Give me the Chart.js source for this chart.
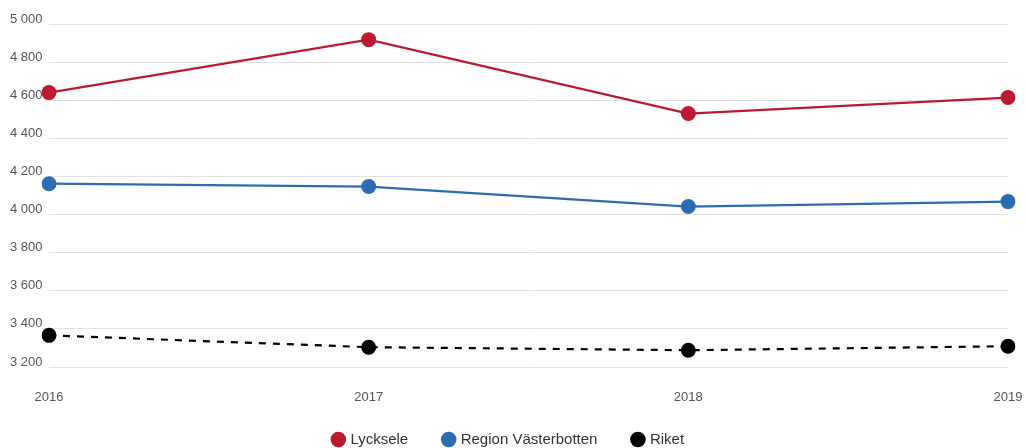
<!DOCTYPE html>
<html>
<head>
<meta charset="utf-8">
<script src="https://cdn.jsdelivr.net/npm/chart.js@4/dist/chart.umd.min.js"></script>
<style>
  html, body { margin: 0; padding: 0; background: #fff; overflow: hidden; }
  #wrap { width: 1026px; height: 448px; }
  canvas { display: block; }
</style>
</head>
<body>
<div id="wrap"><canvas id="chart"></canvas></div>
<script>
const years = ["2016", "2017", "2018", "2019"];
const lycksele = [4640, 4918, 4530, 4614];
const vasterbotten = [4162, 4147, 4042, 4068];
const riket = [3366, 3304, 3288, 3309];
const yTicks = [3200, 3400, 3600, 3800, 4000, 4200, 4400, 4600, 4800, 5000];

const red = "#bd1a31";
const blue = "#2c6cb3";
const font = "Liberation Sans, Arial";

function fmt(v) {
  return String(v).replace(/\B(?=(\d{3})+(?!\d))/g, " ");
}

function series(label, data, color, dashed) {
  return {
    label,
    data,
    borderColor: color,
    backgroundColor: color,
    borderWidth: 2.2,
    borderDash: dashed ? [7, 7] : [],
    pointRadius: 7.5,
    pointHoverRadius: 7.5,
    pointBorderWidth: 0,
    tension: 0,
  };
}

new Chart(document.getElementById("chart"), {
  type: "line",
  data: {
    labels: years,
    datasets: [
      series("Lycksele", lycksele, red, false),
      series("Region Västerbotten", vasterbotten, blue, false),
      series("Riket", riket, "#000", true),
    ],
  },
  options: {
    responsive: true,
    maintainAspectRatio: false,
    animation: false,
    layout: { padding: { top: 24, right: 18, left: 10, bottom: -9 } },
    plugins: {
      tooltip: { enabled: false },
      legend: {
        position: "bottom",
        labels: {
          usePointStyle: true,
          pointStyle: "circle",
          boxWidth: 9,
          boxHeight: 11,
          padding: 36,
          color: "#333",
          font: { family: font, size: 15 },
        },
      },
    },
    scales: {
      x: {
        grid: { display: false, drawTicks: false },
        border: { display: false },
        afterFit: (axis) => {
          // the legend sits close below, so keep the box short and let labels spill over
          axis.height = 29;
          axis.paddingRight = 0;
          axis._computeLabelArea = () => undefined;
        },
        ticks: {
          padding: 23,
          color: "#555",
          maxRotation: 0,
          font: { family: font, size: 13 },
        },
      },
      y: {
        min: 3200,
        max: 5000,
        afterBuildTicks: (axis) => {
          axis.ticks = yTicks.map((v) => ({ value: v }));
        },
        afterFit: (axis) => {
          axis.width = 39;
        },
        grid: { color: "#e2e2e2", drawTicks: false, lineWidth: 1 },
        border: { display: false },
        ticks: {
          callback: (v) => fmt(v),
          crossAlign: "far",
          labelOffset: -5,
          padding: 6,
          color: "#555",
          font: { family: font, size: 13 },
        },
      },
    },
  },
});
</script>
</body>
</html>
